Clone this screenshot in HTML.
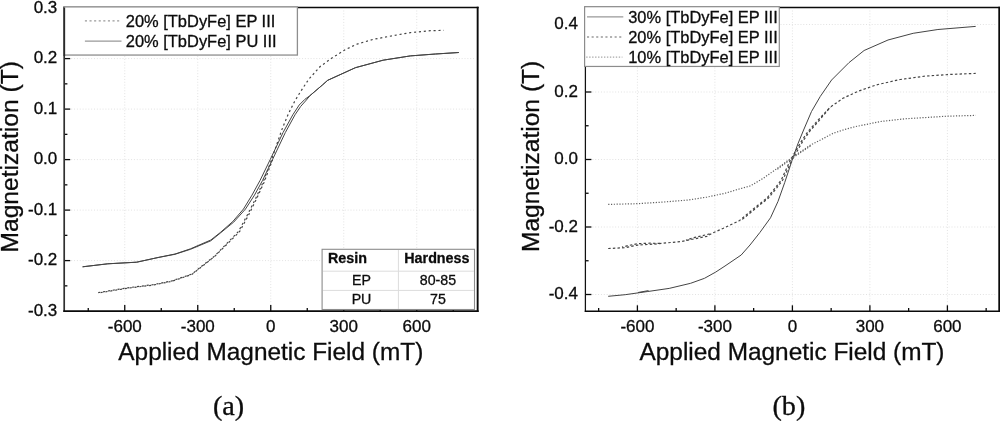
<!DOCTYPE html>
<html lang="en">
<head>
<meta charset="utf-8">
<title>Magnetization vs Applied Magnetic Field</title>
<style>
html,body{margin:0;padding:0;background:#fff;}
body{width:1000px;height:421px;overflow:hidden;}
svg{display:block;}
svg text{font-family:"Liberation Sans",Arial,Helvetica,sans-serif;fill:#0c0c0c;stroke:#0c0c0c;stroke-width:0.3px;}
.grid{stroke:#e2e2e2;stroke-width:1;stroke-dasharray:1 1.85;}
.c{fill:none;stroke:#444;stroke-width:1;stroke-linejoin:round;}
.dash{stroke-dasharray:2.1 2.8;stroke-width:1.2;}
.dash2{stroke-dasharray:2.45 2.2;stroke-width:1.2;}
.dot{stroke-dasharray:1.2 1.6;stroke-width:1.2;stroke:#606060;}
.tl text{font-size:17px;}
.xt{font-size:24.4px;}
.yt{font-size:24.6px;}
.lg{font-size:16.45px;}
.th{font-size:14.3px;font-weight:bold;}
.td{font-size:14.2px;}
svg text.cap{font-family:"Liberation Serif","Times New Roman",serif;font-size:28.2px;}
</style>
</head>
<body>
<svg width="1000" height="421" viewBox="0 0 1000 421">
<rect width="1000" height="421" fill="#fff"/>
<g id="plot-a">
<line x1="124.75" y1="10.5" x2="124.75" y2="309.1" class="grid"/>
<line x1="197.75" y1="10.5" x2="197.75" y2="309.1" class="grid"/>
<line x1="270.75" y1="10.5" x2="270.75" y2="309.1" class="grid"/>
<line x1="343.75" y1="10.5" x2="343.75" y2="309.1" class="grid"/>
<line x1="416.75" y1="10.5" x2="416.75" y2="309.1" class="grid"/>
<line x1="71.2" y1="58.60" x2="474.6" y2="58.60" class="grid"/>
<line x1="71.2" y1="109.10" x2="474.6" y2="109.10" class="grid"/>
<line x1="71.2" y1="159.60" x2="474.6" y2="159.60" class="grid"/>
<line x1="71.2" y1="210.10" x2="474.6" y2="210.10" class="grid"/>
<line x1="71.2" y1="260.60" x2="474.6" y2="260.60" class="grid"/>
<polyline points="82.6,266.8 107.8,263.8 136.7,262.2 158.1,257.5 175.0,254.0 190.5,248.8 210.8,240.0 220.2,232.6 232.8,221.5 243.5,209.0 252.0,195.1 260.0,180.5 270.2,159.6 283.0,132.6 292.8,114.8 299.2,105.0 304.9,99.3 309.9,95.7 322.4,85.0 327.7,80.3 355.4,67.7 383.1,60.2 410.4,55.9 435.5,54.0 458.8,52.5" class="c solid"/>
<polyline points="82.6,266.8 107.8,263.8 136.7,262.2 158.1,257.5 175.0,254.3 190.5,249.3 210.8,240.8 220.2,233.2 233.8,222.0 245.5,209.0 254.5,195.1 262.5,180.5 272.5,159.6 285.3,132.6 295.0,114.8 300.7,106.4 306.4,100.0 309.9,95.7 322.4,85.0 327.7,80.3 355.4,67.7 383.1,60.2 410.4,55.9 435.5,54.0 458.8,52.5" class="c solid"/>
<polyline points="98.2,292.6 127.8,287.8 152.9,284.7 171.8,280.9 192.0,274.0 215.0,255.7 238.5,231.4 247.9,214.0 255.5,198.9 263.0,182.5 271.6,159.6 281.7,130.0 288.3,114.0 294.6,101.4 300.3,92.0 306.6,82.5 309.5,78.4 320.2,66.5 331.5,58.3 345.4,49.5 357.9,43.8 373.0,39.4 393.2,35.6 410.4,32.6 430.5,30.7 443.7,30.4" class="c dash"/>
<polyline points="98.2,293.0 127.8,288.2 152.9,285.1 171.8,281.3 192.0,274.4 215.0,256.1 239.5,231.8 248.9,214.4 256.5,198.9 264.0,182.5 272.6,159.6" class="c dash" stroke-dashoffset="2.45"/>
<line x1="124.75" y1="311.15" x2="124.75" y2="305.1" stroke="#0a0a0a" stroke-width="1.3"/>
<line x1="197.75" y1="311.15" x2="197.75" y2="305.1" stroke="#0a0a0a" stroke-width="1.3"/>
<line x1="270.75" y1="311.15" x2="270.75" y2="305.1" stroke="#0a0a0a" stroke-width="1.3"/>
<line x1="343.75" y1="311.15" x2="343.75" y2="305.1" stroke="#0a0a0a" stroke-width="1.3"/>
<line x1="416.75" y1="311.15" x2="416.75" y2="305.1" stroke="#0a0a0a" stroke-width="1.3"/>
<line x1="88.25" y1="311.15" x2="88.25" y2="307.9" stroke="#0a0a0a" stroke-width="1.3"/>
<line x1="161.25" y1="311.15" x2="161.25" y2="307.9" stroke="#0a0a0a" stroke-width="1.3"/>
<line x1="234.25" y1="311.15" x2="234.25" y2="307.9" stroke="#0a0a0a" stroke-width="1.3"/>
<line x1="307.25" y1="311.15" x2="307.25" y2="307.9" stroke="#0a0a0a" stroke-width="1.3"/>
<line x1="380.25" y1="311.15" x2="380.25" y2="307.9" stroke="#0a0a0a" stroke-width="1.3"/>
<line x1="453.25" y1="311.15" x2="453.25" y2="307.9" stroke="#0a0a0a" stroke-width="1.3"/>
<line x1="64.2" y1="58.60" x2="70.2" y2="58.60" stroke="#0a0a0a" stroke-width="1.3"/>
<line x1="64.2" y1="109.10" x2="70.2" y2="109.10" stroke="#0a0a0a" stroke-width="1.3"/>
<line x1="64.2" y1="159.60" x2="70.2" y2="159.60" stroke="#0a0a0a" stroke-width="1.3"/>
<line x1="64.2" y1="210.10" x2="70.2" y2="210.10" stroke="#0a0a0a" stroke-width="1.3"/>
<line x1="64.2" y1="260.60" x2="70.2" y2="260.60" stroke="#0a0a0a" stroke-width="1.3"/>
<line x1="64.2" y1="33.35" x2="67.4" y2="33.35" stroke="#0a0a0a" stroke-width="1.3"/>
<line x1="64.2" y1="83.85" x2="67.4" y2="83.85" stroke="#0a0a0a" stroke-width="1.3"/>
<line x1="64.2" y1="134.35" x2="67.4" y2="134.35" stroke="#0a0a0a" stroke-width="1.3"/>
<line x1="64.2" y1="184.85" x2="67.4" y2="184.85" stroke="#0a0a0a" stroke-width="1.3"/>
<line x1="64.2" y1="235.35" x2="67.4" y2="235.35" stroke="#0a0a0a" stroke-width="1.3"/>
<line x1="64.2" y1="285.85" x2="67.4" y2="285.85" stroke="#0a0a0a" stroke-width="1.3"/>
<line x1="64.2" y1="6.70" x2="64.2" y2="312.00" stroke="#303030" stroke-width="1.7"/>
<line x1="63.35" y1="7.5" x2="478.60" y2="7.5" stroke="#0a0a0a" stroke-width="1.6"/>
<line x1="477.65" y1="6.70" x2="477.65" y2="312.00" stroke="#0a0a0a" stroke-width="1.9"/>
<line x1="63.35" y1="311.15" x2="478.60" y2="311.15" stroke="#0a0a0a" stroke-width="1.7"/>
</g>
<g id="plot-b">
<line x1="637.40" y1="10.5" x2="637.40" y2="309.3" class="grid"/>
<line x1="714.90" y1="10.5" x2="714.90" y2="309.3" class="grid"/>
<line x1="792.40" y1="10.5" x2="792.40" y2="309.3" class="grid"/>
<line x1="869.90" y1="10.5" x2="869.90" y2="309.3" class="grid"/>
<line x1="947.40" y1="10.5" x2="947.40" y2="309.3" class="grid"/>
<line x1="592.4" y1="24.50" x2="996.2" y2="24.50" class="grid"/>
<line x1="592.4" y1="92.00" x2="996.2" y2="92.00" class="grid"/>
<line x1="592.4" y1="159.50" x2="996.2" y2="159.50" class="grid"/>
<line x1="592.4" y1="227.00" x2="996.2" y2="227.00" class="grid"/>
<line x1="592.4" y1="294.50" x2="996.2" y2="294.50" class="grid"/>
<polyline points="608.2,296.3 625.2,294.7 647.8,291.5 669.2,288.4 690.6,283.3 704.5,278.3 715.8,272.0 725.0,266.0 741.2,255.0 750.0,245.0 759.8,232.6 770.5,217.8 778.0,201.4 784.7,182.6 792.3,159.6 797.9,143.8 803.6,130.0 811.5,111.5 820.3,96.4 831.6,80.0 849.0,62.6 864.1,50.5 888.0,40.0 913.2,33.3 937.9,29.5 975.7,26.4" class="c solid"/>
<polyline points="608.2,248.5 625.2,247.7 637.8,245.1 656.6,243.9 681.8,241.4 707.0,236.3 712.6,233.0 725.0,227.5 739.0,220.9 750.4,211.5 757.9,205.2 766.7,198.3 775.5,187.6 781.2,180.0 790.4,160.2 800.5,142.6 808.0,131.5 817.8,120.3 830.4,107.1 842.9,98.3 858.0,91.3 876.3,84.9 900.2,79.5 925.4,76.1 950.5,74.4 975.7,73.4" class="c dash2"/>
<polyline points="622,247.2 628,245.6 637.8,243.6 650,243.2 660,243.4" class="c dash2" stroke-dashoffset="1.2"/>
<polyline points="686,240.2 694,237.6 707,234.6 711,233.4" class="c dash2" stroke-dashoffset="1.2"/>
<polyline points="740.5,220.9 751.9,211.5 759.4,205.2 768.2,198.3 777.0,187.6 782.7,180.0 791.9,160.2 802.0,142.6 809.5,131.5 819.3,120.3 830.4,107.1" class="c dash2" stroke-dashoffset="2.3"/>
<line x1="638" y1="292.5" x2="648.5" y2="290.6" class="c solid"/>
<polyline points="608.2,204.4 636.5,203.7 662.9,202.1 688.1,200.0 707.0,197.1 725.0,193.3 737.8,189.4 750.4,185.9 762.9,178.5 775.0,170.0 792.7,157.0 810.5,145.1 825.6,137.3 833.0,133.3 844.5,129.5 855.5,126.6 880.7,121.5 905.0,118.8 947.0,116.2 975.7,115.4" class="c dot"/>
<polyline points="776.3,170.0 794.0,157.0 811.8,145.1" class="c dot" stroke-dashoffset="1.4"/>
<line x1="637.40" y1="311.3" x2="637.40" y2="305.3" stroke="#0a0a0a" stroke-width="1.3"/>
<line x1="714.90" y1="311.3" x2="714.90" y2="305.3" stroke="#0a0a0a" stroke-width="1.3"/>
<line x1="792.40" y1="311.3" x2="792.40" y2="305.3" stroke="#0a0a0a" stroke-width="1.3"/>
<line x1="869.90" y1="311.3" x2="869.90" y2="305.3" stroke="#0a0a0a" stroke-width="1.3"/>
<line x1="947.40" y1="311.3" x2="947.40" y2="305.3" stroke="#0a0a0a" stroke-width="1.3"/>
<line x1="598.65" y1="311.3" x2="598.65" y2="308.1" stroke="#0a0a0a" stroke-width="1.3"/>
<line x1="676.15" y1="311.3" x2="676.15" y2="308.1" stroke="#0a0a0a" stroke-width="1.3"/>
<line x1="753.65" y1="311.3" x2="753.65" y2="308.1" stroke="#0a0a0a" stroke-width="1.3"/>
<line x1="831.15" y1="311.3" x2="831.15" y2="308.1" stroke="#0a0a0a" stroke-width="1.3"/>
<line x1="908.65" y1="311.3" x2="908.65" y2="308.1" stroke="#0a0a0a" stroke-width="1.3"/>
<line x1="986.15" y1="311.3" x2="986.15" y2="308.1" stroke="#0a0a0a" stroke-width="1.3"/>
<line x1="585.4" y1="24.50" x2="591.4" y2="24.50" stroke="#0a0a0a" stroke-width="1.3"/>
<line x1="585.4" y1="92.00" x2="591.4" y2="92.00" stroke="#0a0a0a" stroke-width="1.3"/>
<line x1="585.4" y1="159.50" x2="591.4" y2="159.50" stroke="#0a0a0a" stroke-width="1.3"/>
<line x1="585.4" y1="227.00" x2="591.4" y2="227.00" stroke="#0a0a0a" stroke-width="1.3"/>
<line x1="585.4" y1="294.50" x2="591.4" y2="294.50" stroke="#0a0a0a" stroke-width="1.3"/>
<line x1="585.4" y1="58.25" x2="588.6" y2="58.25" stroke="#0a0a0a" stroke-width="1.3"/>
<line x1="585.4" y1="125.75" x2="588.6" y2="125.75" stroke="#0a0a0a" stroke-width="1.3"/>
<line x1="585.4" y1="193.25" x2="588.6" y2="193.25" stroke="#0a0a0a" stroke-width="1.3"/>
<line x1="585.4" y1="260.75" x2="588.6" y2="260.75" stroke="#0a0a0a" stroke-width="1.3"/>
<line x1="585.4" y1="6.75" x2="585.4" y2="312.10" stroke="#111" stroke-width="1.25"/>
<line x1="584.77" y1="7.5" x2="1000.10" y2="7.5" stroke="#0a0a0a" stroke-width="1.5"/>
<line x1="999.2" y1="6.75" x2="999.2" y2="312.10" stroke="#0a0a0a" stroke-width="1.8"/>
<line x1="584.77" y1="311.3" x2="1000.10" y2="311.3" stroke="#0a0a0a" stroke-width="1.6"/>
</g>
<g class="tl">
<text x="124.8" y="331.5" text-anchor="middle">-600</text>
<text x="637.4" y="331.5" text-anchor="middle">-600</text>
<text x="197.8" y="331.5" text-anchor="middle">-300</text>
<text x="714.9" y="331.5" text-anchor="middle">-300</text>
<text x="270.8" y="331.5" text-anchor="middle">0</text>
<text x="792.4" y="331.5" text-anchor="middle">0</text>
<text x="343.8" y="331.5" text-anchor="middle">300</text>
<text x="869.9" y="331.5" text-anchor="middle">300</text>
<text x="416.8" y="331.5" text-anchor="middle">600</text>
<text x="947.4" y="331.5" text-anchor="middle">600</text>
<text x="57.3" y="12.8" text-anchor="end">0.3</text>
<text x="57.3" y="63.3" text-anchor="end">0.2</text>
<text x="57.3" y="113.8" text-anchor="end">0.1</text>
<text x="57.3" y="164.3" text-anchor="end">0.0</text>
<text x="57.3" y="214.8" text-anchor="end">-0.1</text>
<text x="57.3" y="265.3" text-anchor="end">-0.2</text>
<text x="57.3" y="315.8" text-anchor="end">-0.3</text>
<text x="578" y="29.2" text-anchor="end">0.4</text>
<text x="578" y="96.7" text-anchor="end">0.2</text>
<text x="578" y="164.2" text-anchor="end">0.0</text>
<text x="578" y="231.7" text-anchor="end">-0.2</text>
<text x="578" y="299.2" text-anchor="end">-0.4</text>
</g>
<text class="xt" x="270.8" y="360.4" text-anchor="middle">Applied Magnetic Field (mT)</text>
<text class="xt" x="792" y="360.4" text-anchor="middle">Applied Magnetic Field (mT)</text>
<text class="yt" transform="translate(17.6 156.8) rotate(-90)" text-anchor="middle">Magnetization (T)</text>
<text class="yt" transform="translate(539 156.4) rotate(-90)" text-anchor="middle">Magnetization (T)</text>
<text class="cap" x="228.6" y="414.6" text-anchor="middle">(a)</text>
<text class="cap" x="788.9" y="414.5" text-anchor="middle">(b)</text>
<g id="legend-a">
<rect x="64" y="6.9" width="233.4" height="48.15" fill="#fff" stroke="#8e8e8e" stroke-width="1.3"/>
<line x1="64.3" y1="7.6" x2="64.3" y2="56" stroke="#2a2a2a" stroke-width="1.7"/>
<line x1="84.9" y1="20.9" x2="120.5" y2="20.9" stroke="#999" stroke-width="1.3" stroke-dasharray="2.1 2.5"/>
<line x1="84.9" y1="41.2" x2="121.5" y2="41.2" stroke="#999" stroke-width="1.3"/>
<text class="lg" x="125.8" y="27">20% [TbDyFe] EP III</text>
<text class="lg" x="125.8" y="47.2">20% [TbDyFe] PU III</text>
</g>
<g id="legend-b">
<rect x="584.6" y="6.7" width="194.7" height="59.75" fill="#fff" stroke="#8c8c8c" stroke-width="1.2"/>
<line x1="587" y1="16.8" x2="623.3" y2="16.8" stroke="#999" stroke-width="1.3"/>
<line x1="587" y1="37" x2="623.3" y2="37" stroke="#999" stroke-width="1.3" stroke-dasharray="2.1 2.5"/>
<line x1="586.2" y1="57.2" x2="622.4" y2="57.2" stroke="#a8a8a8" stroke-width="1.2" stroke-dasharray="1.4 1.56"/>
<text class="lg" x="628.2" y="22.7">30% [TbDyFe] EP III</text>
<text class="lg" x="628.2" y="42.8">20% [TbDyFe] EP III</text>
<text class="lg" x="628.2" y="62.8">10% [TbDyFe] EP III</text>
</g>
<g id="table">
<rect x="322.1" y="249.3" width="152.4" height="60.2" fill="#fff" stroke="#8c8c8c" stroke-width="1.1"/>
<line x1="398.4" y1="250" x2="398.4" y2="309" stroke="#dcdcdc" stroke-width="1"/>
<line x1="323" y1="271.2" x2="474" y2="271.2" stroke="#dcdcdc" stroke-width="1"/>
<line x1="323" y1="290.4" x2="474" y2="290.4" stroke="#dcdcdc" stroke-width="1"/>
<text class="th" x="328" y="263.2">Resin</text>
<text class="th" x="404.3" y="263.2">Hardness</text>
<text class="td" x="361.5" y="284.6" text-anchor="middle">EP</text>
<text class="td" x="438" y="284.6" text-anchor="middle">80-85</text>
<text class="td" x="361.5" y="304.1" text-anchor="middle">PU</text>
<text class="td" x="438" y="304.1" text-anchor="middle">75</text>
</g>
</svg>
</body>
</html>
